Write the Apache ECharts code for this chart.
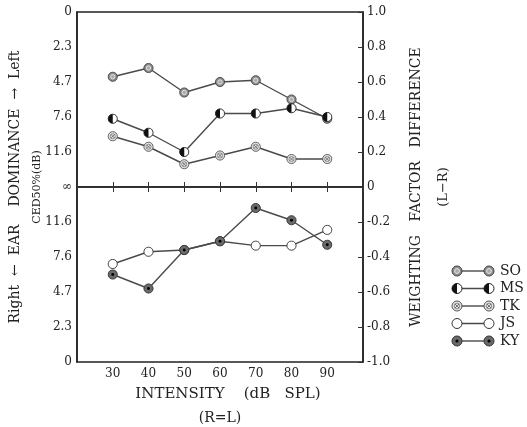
<!DOCTYPE html>
<html>
<head>
<meta charset="utf-8">
<script src="https://cdn.jsdelivr.net/npm/echarts@6/dist/echarts.min.js"></script>
<style>
  html, body { margin: 0; padding: 0; background: #fff; }
  #chart { width: 527px; height: 427px; }
</style>
</head>
<body>
<div id="chart"></div>
<script>
// intensity (dB SPL), R=L
var intensity = [30, 40, 50, 60, 70, 80, 90];
var names = ['SO', 'MS', 'TK', 'JS', 'KY'];
// weighting factor difference (L-R)
var soData = [0.63, 0.68, 0.54, 0.60, 0.61, 0.50, 0.39];
var msData = [0.39, 0.31, 0.20, 0.42, 0.42, 0.45, 0.40];
var tkData = [0.29, 0.23, 0.13, 0.18, 0.23, 0.16, 0.16];
var jsData = [-0.44, -0.37, -0.36, -0.31, -0.335, -0.335, -0.245];
var kyData = [-0.50, -0.58, -0.36, -0.31, -0.12, -0.19, -0.33];
// left axis tick labels, CED50%(dB), top to bottom
var leftLabels = ['0', '2.3', '4.7', '7.6', '11.6', '\u221e', '11.6', '7.6', '4.7', '2.3', '0'];

var font = 'DejaVu Serif';
var lineColor = '#4a4a4a';
var textColor = '#222';

// marker drawings (svg, 12x12 box)
var markerSvg = {
    SO: "<circle cx='6' cy='6' r='5' fill='#8c8c8c' stroke='#444' stroke-width='1'/>" +
        "<circle cx='6' cy='6' r='2.4' fill='#aaa' stroke='#eee' stroke-width='0.9'/>",
    MS: "<circle cx='6' cy='6' r='5' fill='#fff' stroke='#222' stroke-width='1'/>" +
        "<path d='M6 1 A5 5 0 0 0 6 11 Z' fill='#111'/>",
    TK: "<circle cx='6' cy='6' r='5' fill='#e4e4e4' stroke='#555' stroke-width='1'/>" +
        "<circle cx='6' cy='6' r='2.8' fill='none' stroke='#666' stroke-width='0.7'/>" +
        "<path d='M4 4 L8 8 M8 4 L4 8' stroke='#555' stroke-width='0.8'/>",
    JS: "<circle cx='6' cy='6' r='5' fill='#fff' stroke='#333' stroke-width='1'/>",
    KY: "<circle cx='6' cy='6' r='5' fill='#6a6a6a' stroke='#333' stroke-width='1'/>" +
        "<circle cx='6' cy='6' r='1.6' fill='#000'/>"
};

function toUri(svg) {
    return 'image://data:image/svg+xml;charset=utf-8,' + encodeURIComponent(svg);
}
function markerSymbol(n) {
    return toUri("<svg xmlns='http://www.w3.org/2000/svg' width='36' height='36' viewBox='0 0 12 12'>" + markerSvg[n] + "</svg>");
}
function legendSymbol(n) {
    return toUri("<svg xmlns='http://www.w3.org/2000/svg' width='132' height='36' viewBox='0 0 44 12'>" +
        "<line x1='6' y1='6' x2='38' y2='6' stroke='" + lineColor + "' stroke-width='1.4'/>" +
        "<g>" + markerSvg[n] + "</g>" +
        "<g transform='translate(32,0)'>" + markerSvg[n] + "</g></svg>");
}

function pairs(vals) {
    var out = [];
    for (var i = 0; i < intensity.length; i++) {
        out.push([intensity[i], vals[i]]);
    }
    return out;
}

var seriesVals = [soData, msData, tkData, jsData, kyData];
var series = [];
for (var k = 0; k < names.length; k++) {
    series.push({
        name: names[k],
        type: 'line',
        xAxisIndex: 0,
        yAxisIndex: 1,
        data: pairs(seriesVals[k]),
        symbol: markerSymbol(names[k]),
        symbolSize: 11,
        z: 3 + k,
        lineStyle: { color: lineColor, width: 1.4 },
        itemStyle: { color: lineColor },
        animation: false
    });
}
// zero line
series[0].markLine = {
    silent: true,
    symbol: 'none',
    label: { show: false },
    lineStyle: { color: '#333', width: 1.2, type: 'solid' },
    data: [{ yAxis: 0 }]
};

var chart = echarts.init(document.getElementById('chart'));
chart.setOption({
    backgroundColor: '#fff',
    animation: false,
    textStyle: { fontFamily: font },
    grid: {
        left: 77, right: 164, top: 12, bottom: 65,
        outerBoundsMode: 'none',
        containLabel: false,
        show: true, borderColor: '#222', borderWidth: 1.5, backgroundColor: 'transparent'
    },
    legend: {
        orient: 'vertical',
        left: 446,
        top: 259,
        itemWidth: 44,
        itemHeight: 12,
        itemGap: 3.5,
        data: names.map(function (n) { return { name: n, icon: legendSymbol(n) }; }),
        textStyle: { fontFamily: font, fontSize: 14, color: textColor },
        selectedMode: false
    },
    xAxis: [{
        type: 'value',
        position: 'bottom',
        min: 20, max: 100, interval: 10,
        axisLine: { lineStyle: { color: '#222', width: 1.5 } },
        axisTick: { inside: true, length: 5, lineStyle: { color: '#333' } },
        splitLine: { show: false },
        axisLabel: {
            color: textColor, fontSize: 12, margin: 6,
            formatter: function (v) { return (v === 20 || v === 100) ? '' : String(v); }
        },
        name: '{a|INTENSITY    (dB   SPL)}\n{b|(R=L)}',
        nameLocation: 'middle',
        nameGap: 20,
        nameTextStyle: {
            rich: {
                a: { fontFamily: font, fontSize: 15, color: textColor, lineHeight: 24, padding: [0, 0, 0, 16] },
                b: { fontFamily: font, fontSize: 14, color: textColor, lineHeight: 24 }
            }
        }
    }, {
        type: 'value',
        position: 'top',
        min: 20, max: 100, interval: 10,
        axisLine: { lineStyle: { color: '#222', width: 1.5 } },
        axisTick: { inside: true, length: 5, lineStyle: { color: '#333' } },
        splitLine: { show: false },
        axisLabel: { show: false }
    }],
    yAxis: [{
        type: 'value',
        position: 'left',
        min: -1, max: 1, interval: 0.2,
        axisLine: { show: true, lineStyle: { color: '#222', width: 1.5 } },
        axisTick: { show: false },
        splitLine: { show: false },
        axisLabel: {
            color: textColor, fontSize: 12, margin: 5,
            formatter: function (v) { return leftLabels[Math.round((1 - v) / 0.2)]; }
        },
        name: '{a|Right  \u2190  EAR    DOMINANCE  \u2192  Left}\n{b|CED50%(dB)}',
        nameLocation: 'middle',
        nameRotate: 90,
        nameGap: 29,
        nameMoveOverlap: false,
        nameTextStyle: {
            rich: {
                a: { fontFamily: font, fontSize: 14, color: textColor, lineHeight: 22 },
                b: { fontFamily: font, fontSize: 11, color: textColor, lineHeight: 22 }
            }
        }
    }, {
        type: 'value',
        position: 'right',
        min: -1, max: 1, interval: 0.2,
        axisLine: { show: true, lineStyle: { color: '#222', width: 1.5 } },
        axisTick: { inside: true, length: 5, lineStyle: { color: '#333' } },
        splitLine: { show: false },
        axisLabel: {
            color: textColor, fontSize: 12, margin: 4,
            formatter: function (v) { return Math.abs(v) < 1e-9 ? '0' : v.toFixed(1); }
        },
        name: '{a|WEIGHTING   FACTOR   DIFFERENCE}\n{b|(L\u2212R)}',
        nameLocation: 'middle',
        nameRotate: 90,
        nameGap: 40,
        nameTextStyle: {
            rich: {
                a: { fontFamily: font, fontSize: 14, color: textColor, lineHeight: 27 },
                b: { fontFamily: font, fontSize: 13, color: textColor, lineHeight: 27 }
            }
        }
    }],
    series: series
});
</script>
</body>
</html>
